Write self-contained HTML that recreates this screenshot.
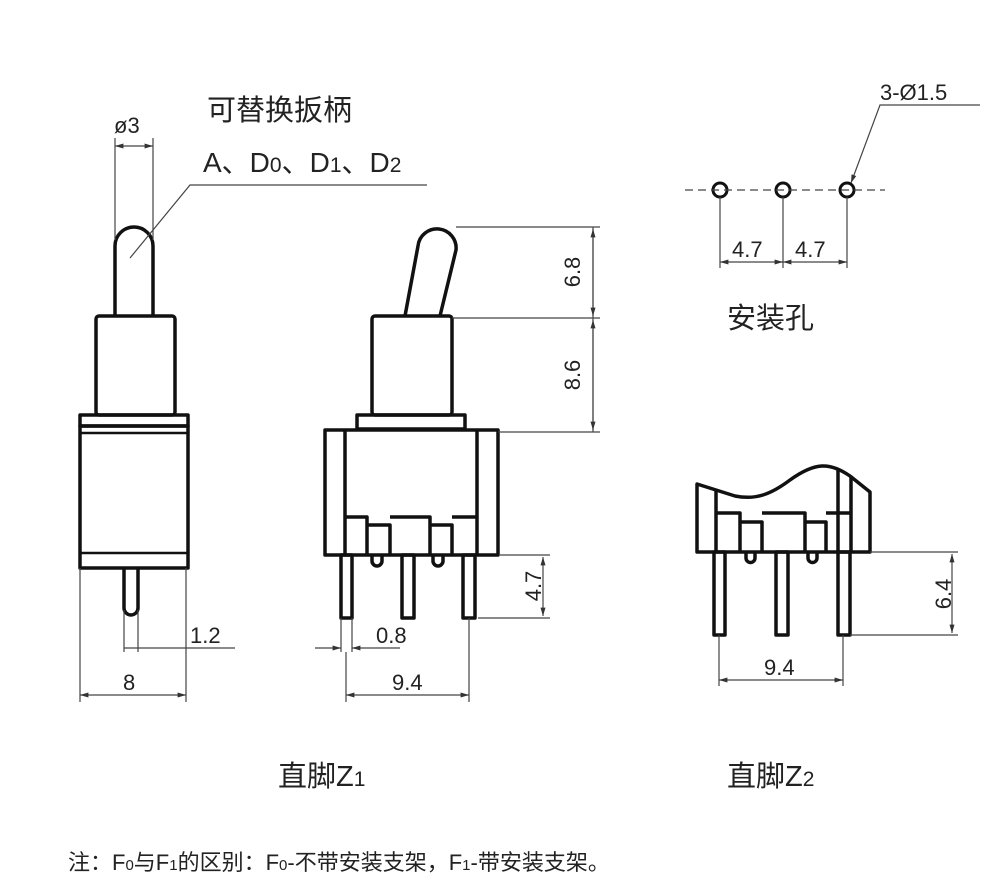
<!DOCTYPE html>
<html><head><meta charset="utf-8"><style>
html,body{margin:0;padding:0;background:#fff}
svg{display:block}
text{font-family:"Liberation Sans","Noto Sans CJK SC",sans-serif;fill:#222}
</style></head><body>
<svg width="1000" height="894" viewBox="0 0 1000 894" xmlns="http://www.w3.org/2000/svg">
<defs>
<marker id="a" viewBox="0 0 10 10" refX="10" refY="5" markerWidth="7" markerHeight="7" orient="auto-start-reverse"><path d="M0,2 L10,5 L0,8z" fill="#333"/></marker>
</defs>
<g fill="none" stroke="#111" stroke-width="3.5" stroke-linejoin="round">
<path d="M115,316 V246 A19,19 0 0 1 153,246 V316"/>
<rect x="96" y="316" width="79" height="99" rx="3"/>
<rect x="80" y="415" width="108" height="11"/>
<rect x="80" y="426" width="108" height="142"/>
<line x1="80" y1="433" x2="188" y2="433" stroke-width="2.5"/>
<line x1="80" y1="553" x2="188" y2="553" stroke-width="2.5"/>
<path d="M124,568 V608 A7,7 0 0 0 138,608 V568"/>
<path d="M405,316 L418,246 A19,19 0 0 1 456,250 L440,316"/>
<rect x="372" y="316" width="80" height="99" rx="3"/>
<rect x="357" y="415" width="108" height="14"/>
<rect x="325" y="430" width="173" height="125"/>
<line x1="345" y1="430" x2="345" y2="555"/>
<line x1="477" y1="430" x2="477" y2="555"/>
<path d="M345,517 H367 V555 M367,525 H390 V555 M390,517 H430 V555 M430,525 H452 V555 M452,517 H477"/>
<rect x="341" y="555" width="11" height="63"/>
<rect x="402" y="555" width="12" height="63"/>
<rect x="463" y="555" width="12" height="63"/>
<path d="M372,555 V561 A5,5 0 0 0 382,561 V555"/>
<path d="M433,555 V561 A5,5 0 0 0 443,561 V555"/>
<path d="M697,484 L697,552 L870,552 L870,492 L850,476 C830,462 815,462 790,480 C770,495 755,500 735,496 Z"/>
<line x1="716" y1="490" x2="716" y2="552"/>
<line x1="838" y1="470" x2="838" y2="552"/>
<line x1="851" y1="476" x2="851" y2="552"/>
<path d="M716,513 H740 V552 M740,522 H762 V552 M762,513 H805 V552 M805,522 H826 V552 M826,513 H851"/>
<rect x="714" y="552" width="11" height="83"/>
<rect x="776" y="552" width="12" height="83"/>
<rect x="838" y="552" width="12" height="83"/>
<path d="M746,552 V558 A4.5,4.5 0 0 0 755,558 V552"/>
<path d="M808,552 V558 A4.5,4.5 0 0 0 817,558 V552"/>
<circle cx="720" cy="190" r="7" stroke-width="3"/>
<circle cx="783" cy="190" r="7" stroke-width="3"/>
<circle cx="847" cy="190" r="7" stroke-width="3"/>
</g>
<g fill="none" stroke="#444" stroke-width="1.2">
<line x1="115" y1="138" x2="115" y2="240"/><line x1="153" y1="138" x2="153" y2="240"/>
<line x1="115" y1="146" x2="153" y2="146" marker-start="url(#a)" marker-end="url(#a)"/>
<path d="M130,258 L190,185 H427"/>
<line x1="124" y1="610" x2="124" y2="652"/><line x1="138" y1="610" x2="138" y2="652"/>
<line x1="124" y1="648" x2="235" y2="648"/>
<line x1="80" y1="568" x2="80" y2="702"/><line x1="186" y1="568" x2="186" y2="702"/>
<line x1="80" y1="695" x2="186" y2="695" marker-start="url(#a)" marker-end="url(#a)"/>
<line x1="456" y1="227" x2="600" y2="227"/>
<line x1="452" y1="318" x2="600" y2="318"/>
<line x1="498" y1="432" x2="600" y2="432"/>
<line x1="593" y1="227" x2="593" y2="432" />
<line x1="593" y1="229" x2="593" y2="316" marker-start="url(#a)" marker-end="url(#a)"/>
<line x1="593" y1="320" x2="593" y2="430" marker-start="url(#a)" marker-end="url(#a)"/>
<line x1="500" y1="555" x2="550" y2="555"/>
<line x1="478" y1="618" x2="550" y2="618"/>
<line x1="543" y1="557" x2="543" y2="616" marker-start="url(#a)" marker-end="url(#a)"/>
<line x1="341" y1="618" x2="341" y2="652"/><line x1="352" y1="618" x2="352" y2="652"/>
<line x1="315" y1="648" x2="341" y2="648" marker-end="url(#a)"/>
<line x1="400" y1="648" x2="352" y2="648" marker-end="url(#a)"/>
<line x1="346" y1="652" x2="346" y2="702"/><line x1="469" y1="618" x2="469" y2="702"/>
<line x1="346" y1="695" x2="469" y2="695" marker-start="url(#a)" marker-end="url(#a)"/>
<line x1="685" y1="190" x2="885" y2="190" stroke-dasharray="8,5"/>
<line x1="720" y1="197" x2="720" y2="268"/><line x1="783" y1="197" x2="783" y2="268"/><line x1="847" y1="197" x2="847" y2="268"/>
<line x1="720" y1="262" x2="783" y2="262" marker-start="url(#a)" marker-end="url(#a)"/>
<line x1="783" y1="262" x2="847" y2="262" marker-start="url(#a)" marker-end="url(#a)"/>
<path d="M980,105 H880 L851,183" marker-end="url(#a)"/>
<line x1="870" y1="552" x2="958" y2="552"/>
<line x1="850" y1="635" x2="958" y2="635"/>
<line x1="952" y1="554" x2="952" y2="633" marker-start="url(#a)" marker-end="url(#a)"/>
<line x1="719" y1="635" x2="719" y2="686"/><line x1="843" y1="635" x2="843" y2="686"/>
<line x1="719" y1="680" x2="843" y2="680" marker-start="url(#a)" marker-end="url(#a)"/>
</g>
<g font-size="22">
<text x="114" y="133">ø3</text>
<text x="207" y="120" font-size="29">可替换扳柄</text>
<text x="203" y="172" font-size="28">A、D<tspan font-size="21">0</tspan>、D<tspan font-size="21">1</tspan>、D<tspan font-size="21">2</tspan></text>
<text x="190" y="643">1.2</text>
<text x="123" y="690">8</text>
<text x="376" y="643">0.8</text>
<text x="392" y="690">9.4</text>
<text transform="translate(580,272) rotate(-90)" text-anchor="middle">6.8</text>
<text transform="translate(580,375) rotate(-90)" text-anchor="middle">8.6</text>
<text transform="translate(541,586) rotate(-90)" text-anchor="middle">4.7</text>
<text transform="translate(951,594) rotate(-90)" text-anchor="middle">6.4</text>
<text x="764" y="675">9.4</text>
<text x="732" y="257">4.7</text>
<text x="795" y="257">4.7</text>
<text x="880" y="100">3-Ø1.5</text>
<text x="727" y="328" font-size="29">安装孔</text>
<text x="278" y="786" font-size="29">直脚Z<tspan font-size="21">1</tspan></text>
<text x="727" y="786" font-size="29">直脚Z<tspan font-size="21">2</tspan></text>
<text x="68" y="870" font-size="22">注：F<tspan font-size="15">0</tspan>与F<tspan font-size="15">1</tspan>的区别：F<tspan font-size="15">0</tspan>-不带安装支架，F<tspan font-size="15">1</tspan>-带安装支架。</text>
</g>
</svg>
</body></html>
